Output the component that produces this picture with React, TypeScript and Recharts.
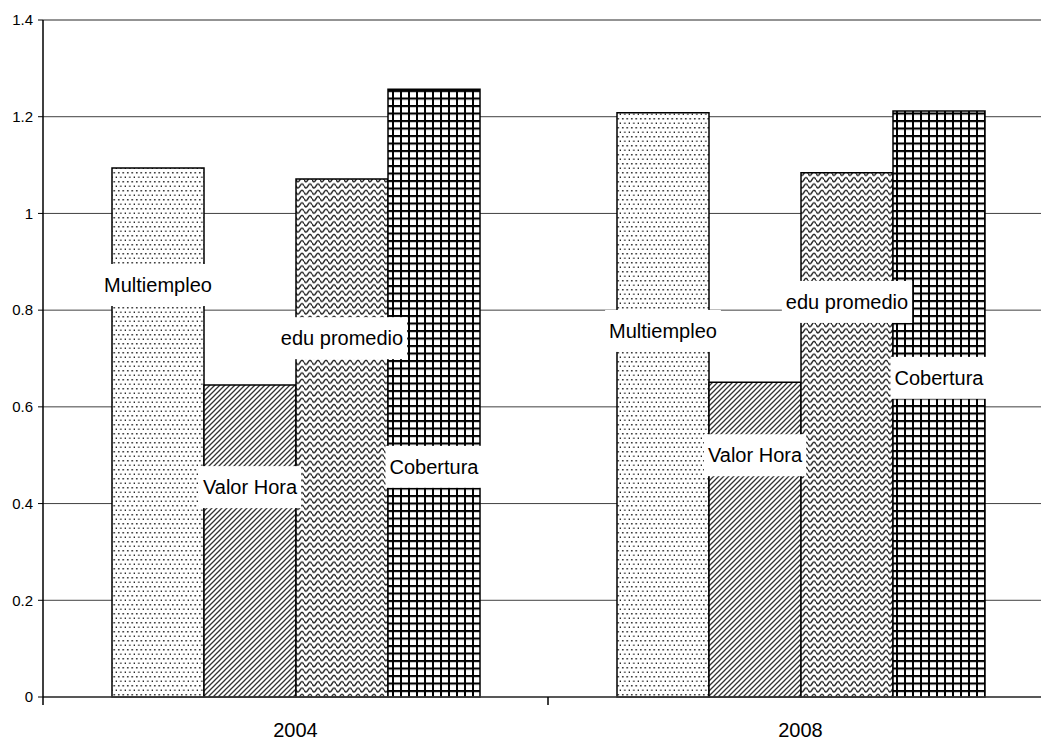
import React from "react";
import { BarChart, Bar, XAxis, YAxis, CartesianGrid, LabelList, ReferenceLine } from "recharts";

const years = ["2004", "2008"];
const multiempleo = [1.094, 1.208];
const valorHora = [0.645, 0.651];
const eduPromedio = [1.071, 1.084];
const cobertura = [1.257, 1.212];
const yTicks = [0, 0.2, 0.4, 0.6, 0.8, 1, 1.2, 1.4];

// where each label box sits, in axis units
const labelMultiempleo = [0.852, 0.757];
const labelValorHora = [0.434, 0.5];
const labelEduPromedio = [0.742, 0.817];
const labelCobertura = [0.476, 0.66];

const FONT = "'Liberation Sans', Arial, sans-serif";

const data = years.map((year, i) => ({
  year,
  multiempleo: multiempleo[i],
  valorHora: valorHora[i],
  eduPromedio: eduPromedio[i],
  cobertura: cobertura[i],
}));

let ctx: CanvasRenderingContext2D | null = null;
function textWidth(s: string) {
  if (!ctx) ctx = document.createElement("canvas").getContext("2d");
  if (!ctx) return s.length * 10;
  ctx.font = `20px ${FONT}`;
  return ctx.measureText(s).width;
}

const makeLabel = (name: string, at: number[]) => (props: any) => {
  const vb = props.viewBox || props;
  const x = vb.x ?? props.x;
  const y = vb.y ?? props.y;
  const width = vb.width ?? props.width;
  const height = vb.height ?? props.height;
  const value = Number(props.value);
  const i = props.index ?? 0;
  const base = y + height;
  const cy = base - (at[i] / value) * height;
  const cx = x + width / 2;
  const w = textWidth(name) + 8;
  return (
    <g>
      <rect x={cx - w / 2} y={cy - 21} width={w} height={42} fill="#fff" />
      <text
        x={cx}
        y={cy}
        textAnchor="middle"
        dominantBaseline="central"
        fontFamily={FONT}
        fontSize={20}
        fill="#000"
      >
        {name}
      </text>
    </g>
  );
};

const YearTick = (props: any) => {
  const { x, y, payload, index, visibleTicksCount } = props;
  const half = payload?.offset ?? 252.5;
  const last = index === (visibleTicksCount ?? years.length) - 1;
  return (
    <g>
      <line x1={x - half} x2={x - half} y1={y} y2={y + 8} stroke="#000" strokeWidth={1.5} />
      {last && <line x1={x + half} x2={x + half} y1={y} y2={y + 8} stroke="#000" strokeWidth={1.5} />}
      <text x={x} y={y + 33} textAnchor="middle" dominantBaseline="central" fontFamily={FONT} fontSize={20} fill="#000">
        {payload.value}
      </text>
    </g>
  );
};

export default function App() {
  return (
    <div
      style={{
        position: "fixed",
        left: 0,
        top: 0,
        width: 1041,
        height: 743,
        overflow: "hidden",
        background: "#fff",
      }}
    >
      <BarChart
        width={1053}
        height={743}
        data={data}
        margin={{ top: 20, right: 0, bottom: 0, left: 0 }}
        barCategoryGap={69}
        barGap={0}
      >
        <defs>
          <pattern id="pDots" width="4.5" height="9" patternUnits="userSpaceOnUse">
            <rect width="4.5" height="9" fill="#fff" />
            <rect x="1" y="1" width="1.5" height="1.5" fill="#222" />
            <rect x="3.25" y="5.5" width="1.5" height="1.5" fill="#222" />
          </pattern>
          <pattern id="pDiag" width="5" height="5" patternUnits="userSpaceOnUse">
            <rect width="5" height="5" fill="#fff" />
            <path d="M-1,1 l2,-2 M0,5 l5,-5 M4,6 l2,-2" stroke="#333" strokeWidth={1.3} />
          </pattern>
          <pattern id="pWave" width="8" height="6.3" patternUnits="userSpaceOnUse">
            <rect width="8" height="6.3" fill="#fff" />
            <path d="M0 3.2 C1.5 6 2.5 6 4 3.2 C5.5 0.4 6.5 0.4 8 3.2" stroke="#222" strokeWidth={1.5} fill="none" />
          </pattern>
          <pattern id="pGrid" width="8" height="7.5" patternUnits="userSpaceOnUse">
            <rect width="8" height="7.5" fill="#fff" />
            <path d="M1 0 V7.5 M0 1 H8" stroke="#000" strokeWidth={2} />
          </pattern>
        </defs>
        <CartesianGrid vertical={false} stroke="#404040" />
        <ReferenceLine y={1.4} stroke="#888" />
        <XAxis
          dataKey="year"
          height={46}
          tickSize={0}
          tickMargin={0}
          tickLine={false}
          axisLine={{ stroke: "#404040", strokeWidth: 1.5 }}
          tick={<YearTick />}
          interval={0}
        />
        <YAxis
          width={43}
          domain={[0, 1.4]}
          ticks={yTicks}
          tickSize={5}
          tickMargin={5}
          axisLine={{ stroke: "#000", strokeWidth: 1.5 }}
          tickLine={{ stroke: "#000" }}
          tick={{ fontFamily: FONT, fontSize: 15, fill: "#000" }}
          tickFormatter={(v: number) => String(v)}
        />
        <Bar dataKey="multiempleo" fill="url(#pDots)" stroke="#000" strokeWidth={1.5} isAnimationActive={false}>
          <LabelList dataKey="multiempleo" content={makeLabel("Multiempleo", labelMultiempleo)} />
        </Bar>
        <Bar dataKey="valorHora" fill="url(#pDiag)" stroke="#000" strokeWidth={1.5} isAnimationActive={false}>
          <LabelList dataKey="valorHora" content={makeLabel("Valor Hora", labelValorHora)} />
        </Bar>
        <Bar dataKey="eduPromedio" fill="url(#pWave)" stroke="#000" strokeWidth={1.5} isAnimationActive={false}>
          <LabelList dataKey="eduPromedio" content={makeLabel("edu promedio", labelEduPromedio)} />
        </Bar>
        <Bar dataKey="cobertura" fill="url(#pGrid)" stroke="#000" strokeWidth={1.5} isAnimationActive={false}>
          <LabelList dataKey="cobertura" content={makeLabel("Cobertura", labelCobertura)} />
        </Bar>
      </BarChart>
    </div>
  );
}
